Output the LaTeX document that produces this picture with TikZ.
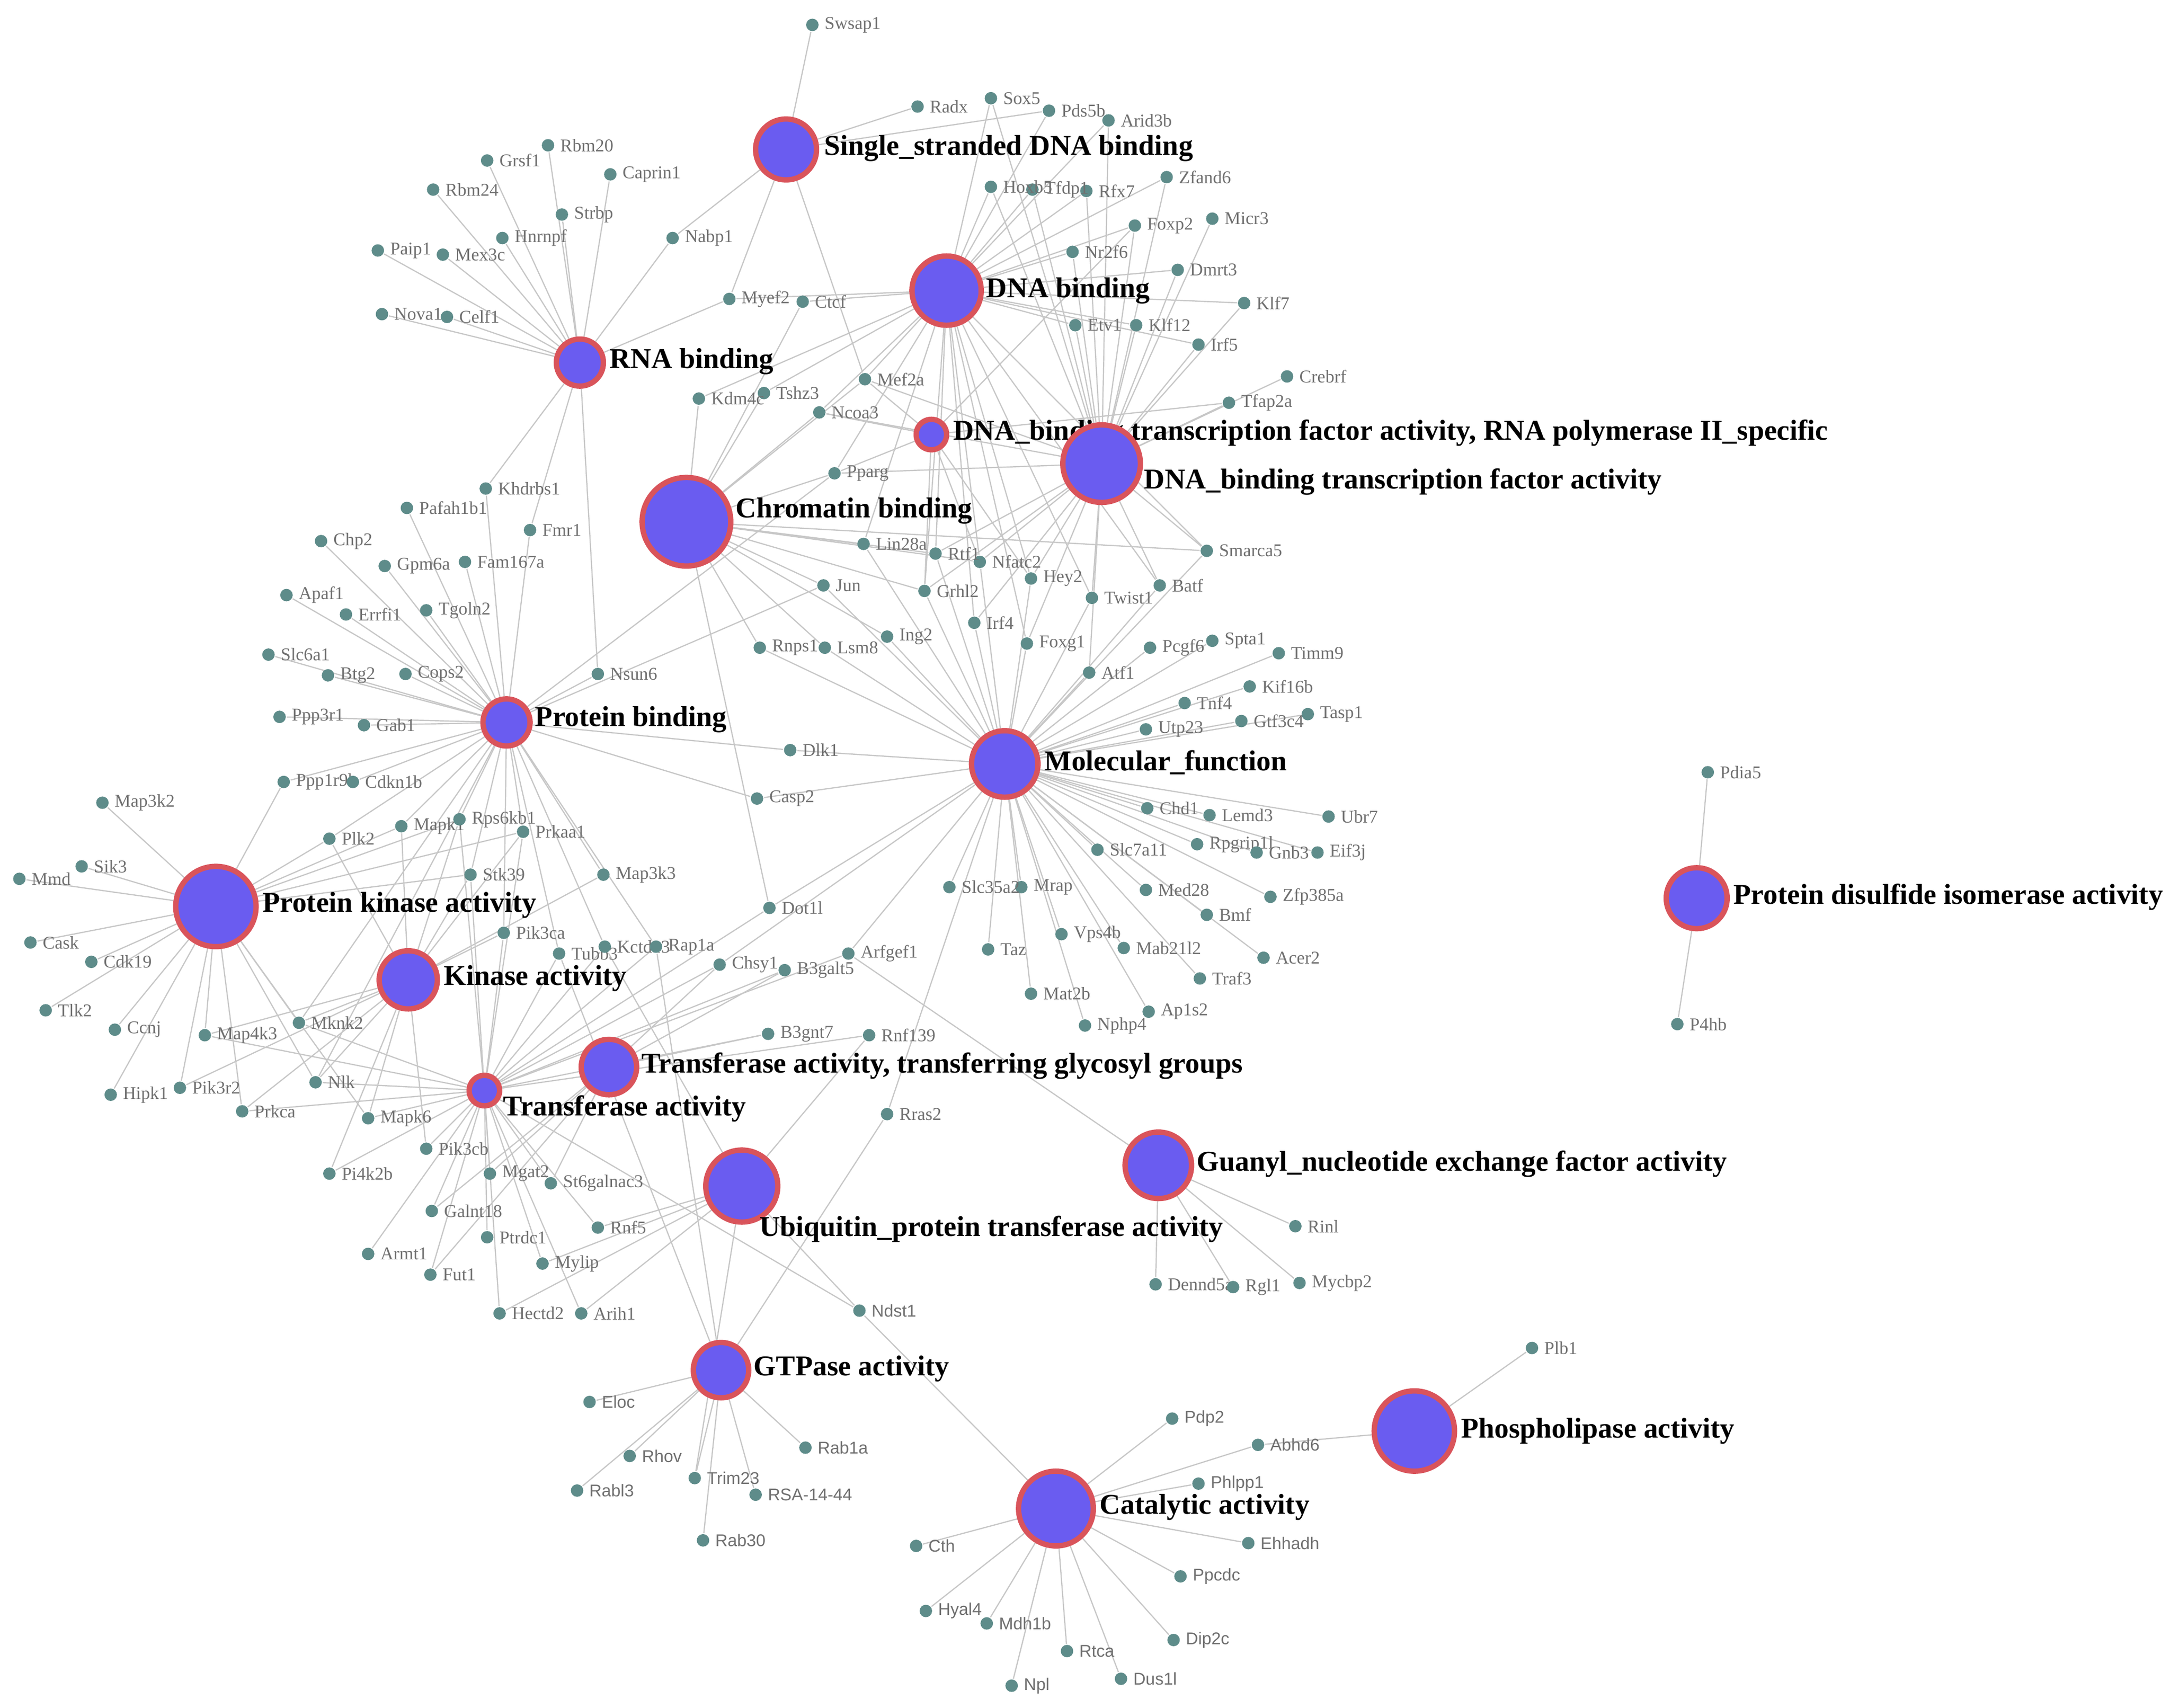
\documentclass[tikz,border=0pt]{standalone}
\usepackage{fontspec}
\setmainfont{Liberation Serif}
\newfontfamily\sansf{Liberation Sans}
\pgfdeclarelayer{bg}\pgfsetlayers{bg,main}
\definecolor{gcol}{HTML}{5E8C8A}
\definecolor{hfill}{HTML}{6A5CF0}
\definecolor{hring}{HTML}{D9545B}
\definecolor{tcol}{HTML}{707070}
\tikzset{
 gene/.style={circle,fill=gcol,inner sep=0pt,minimum size=0.9mm},
 glab/.style={font=\fontsize{3.7}{4}\selectfont,text=tcol,inner sep=0.3mm},
 slab/.style={font=\sansf\fontsize{3.5}{4}\selectfont,text=tcol,inner sep=0.3mm},
 hub/.style={circle,fill=hfill,draw=hring,line width=1.1pt,inner sep=0pt},
 hlab/.style={font=\bfseries\fontsize{5.9}{6}\selectfont,inner sep=0pt,anchor=west},
 edge/.style={draw=black!22,line width=0.25pt}
}
\newcommand\gn[3]{\node[gene,label={[glab,label distance=0pt]right:#1}] (#1) at (#2,#3) {};}
\newcommand\gs[3]{\node[gene,label={[slab,label distance=0pt]right:#1}] (#1) at (#2,#3) {};}
% name x y size(mm) labelx labely text
\newcommand\hb[7]{\node[hub,minimum size=#4mm] (#1) at (#2,#3) {};\node[hlab] at (#5,#6) {#7};}
\begin{document}
\begin{tikzpicture}[x=0.01cm,y=-0.01cm]
\useasboundingbox (0,0) rectangle (1568,1234);
\hb{SS}{568}{108}{4.4}{595}{107}{Single\_stranded DNA binding}
\hb{DB}{684}{210}{5}{712}{210}{DNA binding}
\hb{RB}{419}{262}{3.4}{440}{261}{RNA binding}
\hb{TFB}{673}{314}{2.2}{688}{313}{DNA\_binding transcription factor activity, RNA polymerase II\_specific}
\hb{TF}{796}{335}{5.6}{826}{348}{DNA\_binding transcription factor activity}
\hb{CB}{496}{377}{6.4}{531}{369}{Chromatin binding}
\hb{PB}{366}{522}{3.4}{386}{520}{Protein binding}
\hb{MF}{726}{552}{4.8}{754}{551}{Molecular\_function}
\hb{PK}{156}{655}{5.8}{189}{654}{Protein kinase activity}
\hb{KA}{295}{708}{4.2}{320}{707}{Kinase activity}
\hb{TG}{440}{771}{4}{463}{770}{Transferase activity, transferring glycosyl groups}
\hb{TA}{350}{788}{2.2}{363}{801}{Transferase activity}
\hb{UB}{536}{857}{5.2}{548}{888}{Ubiquitin\_protein transferase activity}
\hb{GN}{837}{842}{4.8}{864}{841}{Guanyl\_nucleotide exchange factor activity}
\hb{GT}{521}{990}{4}{544}{989}{GTPase activity}
\hb{CA}{763}{1090}{5.4}{794}{1089}{Catalytic activity}
\hb{PL}{1022}{1034}{5.8}{1055}{1034}{Phospholipase activity}
\hb{PD}{1226}{649}{4.4}{1252}{648}{Protein disulfide isomerase activity}
\gn{Swsap1}{587}{18}\gn{Radx}{663}{77}\gn{Sox5}{716}{71}\gn{Pds5b}{758}{80}\gn{Arid3b}{801}{87}
\gn{Zfand6}{843}{128}\gn{Micr3}{876}{158}\gn{Foxp2}{820}{163}\gn{Rfx7}{785}{138}\gn{Tfdp1}{746}{137}
\gn{Hoxb5}{716}{135}\gn{Nr2f6}{775}{182}\gn{Dmrt3}{851}{195}\gn{Klf7}{899}{219}\gn{Etv1}{777}{235}
\gn{Klf12}{821}{235}\gn{Irf5}{866}{249}\gn{Crebrf}{930}{272}\gn{Tfap2a}{888}{291}\gn{Smarca5}{872}{398}
\gn{Batf}{838}{423}\gn{Twist1}{789}{432}\gn{Hey2}{745}{418}\gn{Nfatc2}{708}{406}\gn{Rtf1}{676}{400}
\gn{Grhl2}{668}{427}\gn{Irf4}{704}{450}\gn{Ing2}{641}{460}\gn{Foxg1}{742}{465}\gn{Atf1}{787}{486}
\gn{Pcgf6}{831}{468}\gn{Spta1}{876}{463}\gn{Timm9}{924}{472}\gn{Kif16b}{903}{496}\gn{Tnf4}{856}{508}
\gn{Tasp1}{945}{516}\gn{Gtf3c4}{897}{521}\gn{Utp23}{828}{527}\gn{Chd1}{829}{584}\gn{Lemd3}{874}{589}
\gn{Ubr7}{960}{590}\gn{Eif3j}{952}{616}\gn{Rpgrip1l}{865}{610}\gn{Gnb3}{908}{616}\gn{Slc7a11}{793}{614}
\gn{Zfp385a}{918}{648}\gn{Med28}{828}{643}\gn{Bmf}{872}{661}\gn{Acer2}{913}{692}\gn{Mab21l2}{812}{685}
\gn{Traf3}{867}{707}\gn{Vps4b}{767}{675}\gn{Ap1s2}{830}{731}\gn{Mat2b}{745}{718}\gn{Nphp4}{784}{741}
\gn{Taz}{714}{686}\gn{Mrap}{738}{641}\gn{Slc35a2}{686}{641}\gn{Lin28a}{624}{393}\gn{Jun}{595}{423}
\gn{Rnps1}{549}{468}\gn{Lsm8}{596}{468}\gn{Pparg}{603}{342}\gn{Ncoa3}{592}{298}\gn{Mef2a}{625}{274}
\gn{Tshz3}{552}{284}\gn{Kdm4c}{505}{288}\gn{Myef2}{527}{216}\gn{Ctcf}{580}{218}\gn{Nabp1}{486}{172}
\gn{Grsf1}{352}{116}\gn{Rbm20}{396}{105}\gn{Caprin1}{441}{126}\gn{Rbm24}{313}{137}\gn{Strbp}{406}{155}
\gn{Hnrnpf}{363}{172}\gn{Paip1}{273}{181}\gn{Mex3c}{320}{184}\gn{Nova1}{276}{227}\gn{Celf1}{323}{229}
\gn{Khdrbs1}{351}{353}\gn{Pafah1b1}{294}{367}\gn{Fmr1}{383}{383}\gn{Chp2}{232}{391}\gn{Gpm6a}{278}{409}
\gn{Fam167a}{336}{406}\gn{Apaf1}{207}{430}\gn{Errfi1}{250}{444}\gn{Tgoln2}{308}{441}\gn{Slc6a1}{194}{473}
\gn{Btg2}{237}{488}\gn{Cops2}{293}{487}\gn{Nsun6}{432}{487}\gn{Ppp3r1}{202}{518}\gn{Gab1}{263}{524}
\gn{Dlk1}{571}{542}\gn{Casp2}{547}{577}\gn{Ppp1r9b}{205}{565}\gn{Cdkn1b}{255}{565}\gn{Map3k2}{74}{580}
\gn{Plk2}{238}{606}\gn{Mapk1}{290}{597}\gn{Rps6kb1}{332}{592}\gn{Prkaa1}{378}{601}\gn{Stk39}{340}{632}
\gn{Map3k3}{436}{632}\gn{Sik3}{59}{626}\gn{Mmd}{14}{635}\gn{Cask}{22}{681}\gn{Cdk19}{66}{695}
\gn{Tlk2}{33}{730}\gn{Ccnj}{83}{744}\gn{Map4k3}{148}{748}\gn{Mknk2}{216}{739}\gn{Pik3ca}{364}{674}
\gn{Tubb3}{404}{689}\gn{Kctd13}{437}{684}\gn{Rap1a}{474}{684}\gn{Dot1l}{556}{656}\gn{Chsy1}{520}{697}
\gn{B3galt5}{567}{701}\gn{Arfgef1}{613}{689}\gn{B3gnt7}{555}{747}\gn{Rnf139}{628}{748}\gn{Hipk1}{80}{791}
\gn{Pik3r2}{130}{786}\gn{Prkca}{175}{803}\gn{Nlk}{228}{782}\gn{Mapk6}{266}{808}\gn{Pik3cb}{308}{830}
\gn{Mgat2}{354}{848}\gn{St6galnac3}{398}{855}\gn{Pi4k2b}{238}{848}\gn{Galnt18}{312}{875}\gn{Ptrdc1}{352}{894}
\gn{Rnf5}{432}{887}\gn{Mylip}{392}{913}\gn{Armt1}{266}{906}\gn{Fut1}{311}{921}\gn{Hectd2}{361}{949}
\gn{Arih1}{420}{949}\gn{Rras2}{641}{805}\gs{Ndst1}{621}{947}\gn{Rinl}{936}{886}\gn{Dennd5a}{835}{928}
\gn{Rgl1}{891}{930}\gn{Mycbp2}{939}{927}\gs{Eloc}{426}{1013}\gs{Rhov}{455}{1052}\gs{Rab1a}{582}{1046}
\gs{Rabl3}{417}{1077}\gs{Trim23}{502}{1068}\gs{RSA-14-44}{546}{1080}\gs{Rab30}{508}{1113}\gs{Pdp2}{847}{1025}
\gs{Abhd6}{909}{1044}\gs{Phlpp1}{866}{1072}\gs{Ehhadh}{902}{1115}\gs{Ppcdc}{853}{1139}\gs{Cth}{662}{1117}
\gs{Dip2c}{848}{1185}\gs{Hyal4}{669}{1164}\gs{Mdh1b}{713}{1173}\gs{Rtca}{771}{1193}\gs{Npl}{731}{1218}
\gs{Dus1l}{810}{1213}\gn{Plb1}{1107}{974}\gn{Pdia5}{1234}{558}\gn{P4hb}{1212}{740}
\begin{pgfonlayer}{bg}
\foreach \h/\L in {
SS/{Swsap1,Radx,Nabp1,Myef2,Mef2a,Pds5b},
RB/{Grsf1,Rbm20,Caprin1,Rbm24,Strbp,Hnrnpf,Paip1,Mex3c,Nova1,Celf1,Nabp1,Khdrbs1,Fmr1,Nsun6,Myef2},
DB/{Sox5,Pds5b,Arid3b,Zfand6,Foxp2,Rfx7,Tfdp1,Hoxb5,Nr2f6,Dmrt3,Klf7,Etv1,Klf12,Irf5,Ctcf,Myef2,Mef2a,Tshz3,Kdm4c,Ncoa3,Pparg,Hey2,Twist1,Nfatc2,Rtf1,Grhl2,Irf4,Foxg1,Smarca5,Batf,Lin28a},
TF/{Hoxb5,Tfdp1,Rfx7,Foxp2,Micr3,Nr2f6,Dmrt3,Klf7,Etv1,Klf12,Irf5,Crebrf,Tfap2a,Smarca5,Batf,Twist1,Hey2,Nfatc2,Rtf1,Grhl2,Irf4,Foxg1,Atf1,Mef2a,Ncoa3,Pparg,Zfand6,Arid3b,Sox5},
TFB/{Mef2a,Ncoa3,Pparg,Nfatc2,Foxp2,Tfap2a,Hey2,Grhl2},
CB/{Kdm4c,Tshz3,Ctcf,Mef2a,Ncoa3,Pparg,Lin28a,Jun,Rnps1,Lsm8,Grhl2,Ing2,Rtf1,Smarca5,Nfatc2,Dot1l},
PB/{Khdrbs1,Pafah1b1,Fmr1,Chp2,Gpm6a,Fam167a,Apaf1,Errfi1,Tgoln2,Slc6a1,Btg2,Cops2,Nsun6,Ppp3r1,Gab1,Dlk1,Casp2,Ppp1r9b,Cdkn1b,Plk2,Mapk1,Rps6kb1,Prkaa1,Stk39,Map3k3,Pik3ca,Mknk2,Nlk,Kctd13,Tubb3,Jun,Pparg,Rap1a},
MF/{Lin28a,Jun,Rnps1,Lsm8,Grhl2,Irf4,Ing2,Foxg1,Atf1,Pcgf6,Spta1,Timm9,Kif16b,Tnf4,Tasp1,Gtf3c4,Utp23,Chd1,Lemd3,Ubr7,Eif3j,Rpgrip1l,Gnb3,Slc7a11,Zfp385a,Med28,Bmf,Acer2,Mab21l2,Traf3,Vps4b,Ap1s2,Mat2b,Nphp4,Taz,Mrap,Slc35a2,Dlk1,Casp2,Hey2,Twist1,Batf,Smarca5,Nfatc2,Rtf1,Rras2,Dot1l,Arfgef1,Chsy1},
PK/{Map3k2,Sik3,Mmd,Cask,Cdk19,Tlk2,Ccnj,Map4k3,Hipk1,Pik3r2,Prkca,Nlk,Mknk2,Plk2,Mapk1,Rps6kb1,Stk39,Ppp1r9b,Mapk6,Prkaa1},
KA/{Plk2,Mapk1,Rps6kb1,Prkaa1,Stk39,Map3k3,Pik3ca,Mknk2,Map4k3,Nlk,Prkca,Mapk6,Pik3cb,Pi4k2b,Pik3r2},
TA/{Pik3ca,Tubb3,Kctd13,Rap1a,Chsy1,B3galt5,B3gnt7,Arfgef1,Mgat2,St6galnac3,Pik3cb,Mapk6,Pi4k2b,Galnt18,Ptrdc1,Rnf5,Mylip,Armt1,Fut1,Hectd2,Arih1,Ndst1,Prkaa1,Rps6kb1,Stk39,Nlk,Prkca,Mknk2,Map4k3,Dot1l,Rnf139},
TG/{Chsy1,B3galt5,B3gnt7,Mgat2,St6galnac3,Galnt18,Fut1},
UB/{Rnf5,Mylip,Arih1,Hectd2,Trim23,Rnf139,Kctd13,Ndst1},
GT/{Eloc,Rhov,Rab1a,Rabl3,Trim23,RSA-14-44,Rab30,Rras2,Rap1a,Tubb3},
GN/{Rinl,Dennd5a,Rgl1,Mycbp2,Arfgef1},
CA/{Pdp2,Abhd6,Phlpp1,Ehhadh,Ppcdc,Cth,Dip2c,Hyal4,Mdh1b,Rtca,Npl,Dus1l,Ndst1},
PL/{Plb1,Abhd6},
PD/{Pdia5,P4hb}}{
 \foreach \g in \L {\draw[edge] (\h) -- (\g);}
}
\end{pgfonlayer}
\end{tikzpicture}
\end{document}
